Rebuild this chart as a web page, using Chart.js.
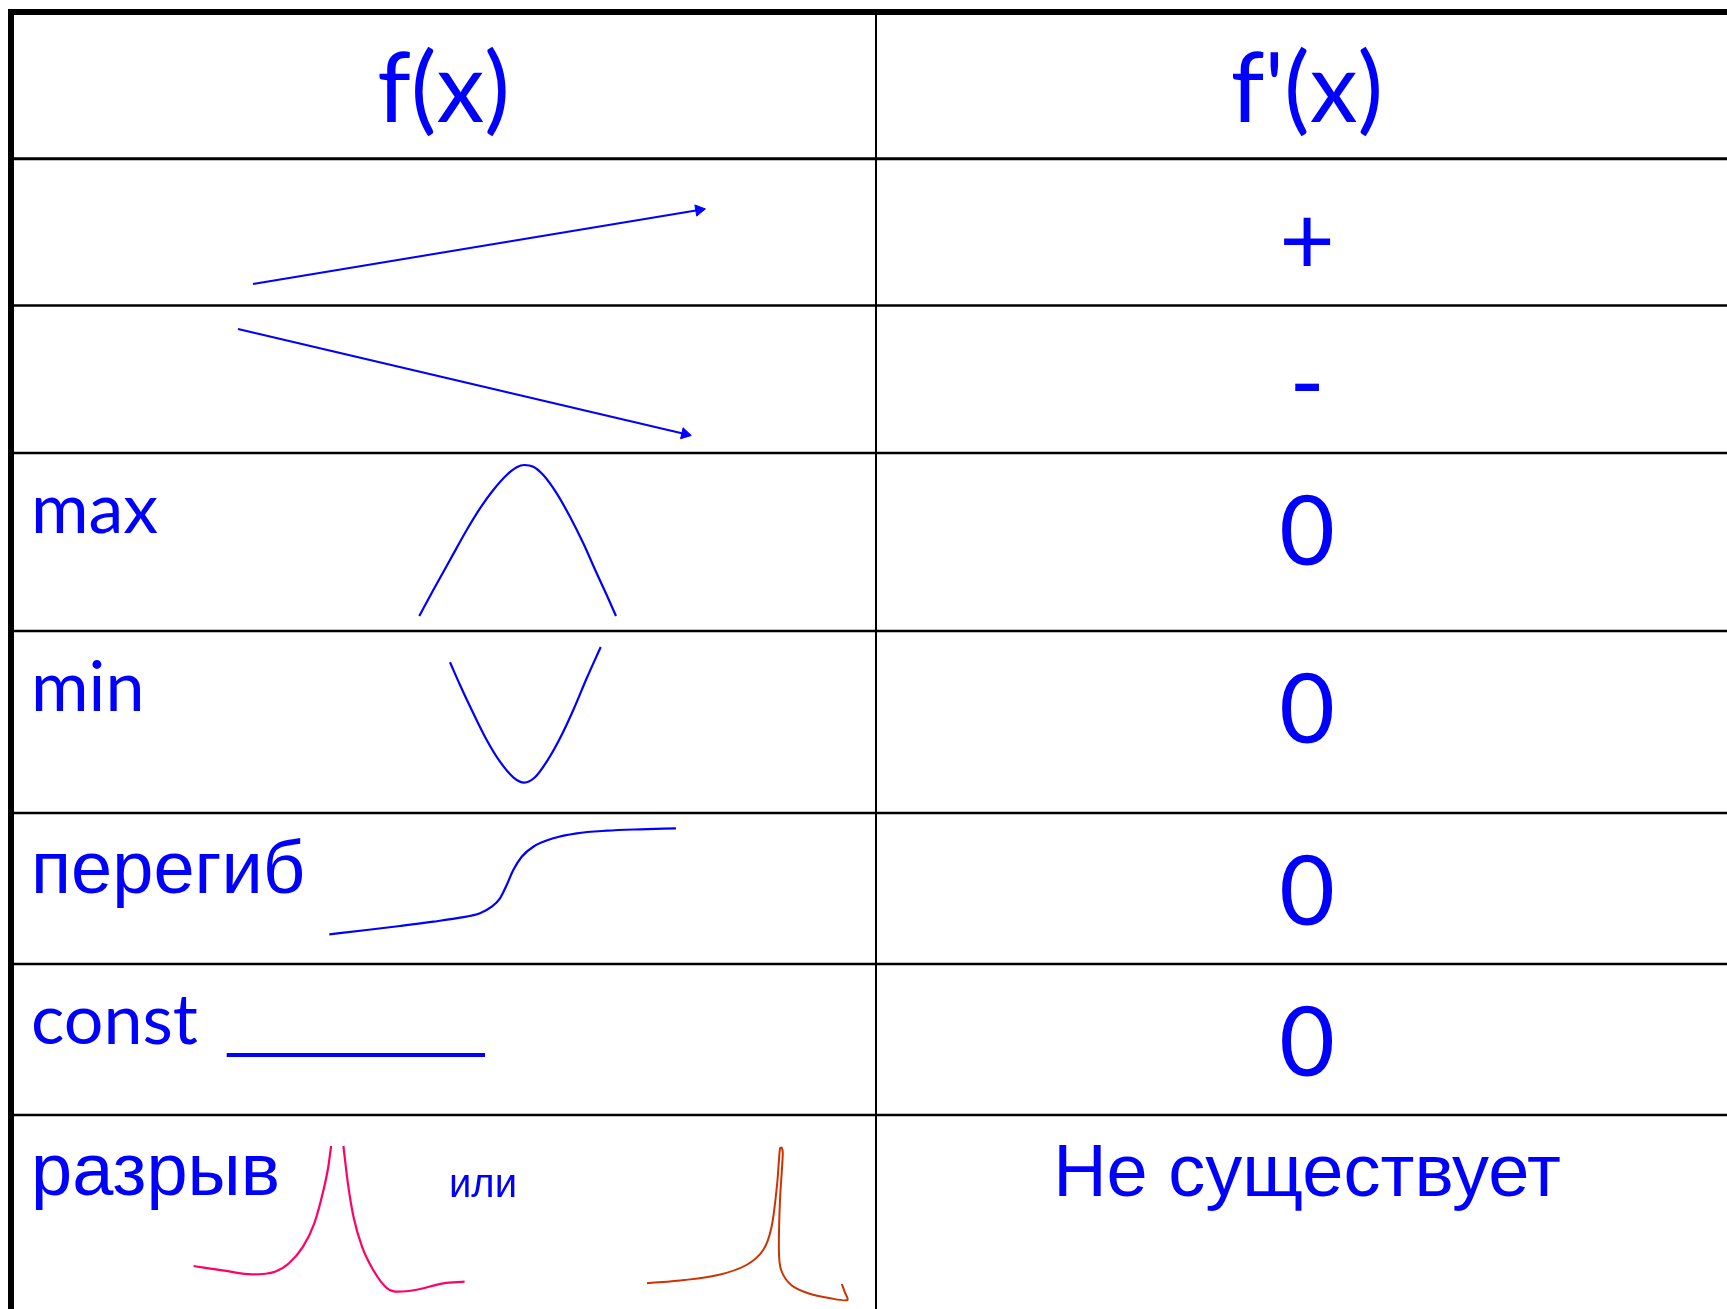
<!DOCTYPE html>
<html><head><meta charset="utf-8">
<script src="https://cdn.jsdelivr.net/npm/chart.js@4.4.1/dist/chart.umd.min.js"></script>
<style>html,body{margin:0;padding:0;background:#fff;overflow:hidden}canvas{display:block}</style>
</head><body><canvas id="c" width="1727" height="1309"></canvas>
<script>
// ---- data (diagram units = table units) ----
const columnEdges = [11, 876, 1738];
const ruleLevels = [158.7, 305.5, 453, 631, 813, 964, 1115];
const headers = ['f(x)', "f'(x)"];
const featureNames = ['', '', 'max', 'min', 'перегиб', 'const', 'разрыв'];
const derivativeSigns = ['+', '-', '0', '0', '0', '0', 'Не существует'];
const orLabel = 'или';

const riseX = [253, 699];
const riseY = [284, 210];
const fallX = [238, 685];
const fallY = [329, 434];
const maxX = [419.3, 433.3, 450, 466.7, 480, 493.3, 506.7, 516.7, 524.3, 533.3, 543.3, 556.7, 570, 583.3, 596.7, 606.7, 616];
const maxY = [616, 590, 560, 530, 508.3, 490, 475, 467.3, 465, 466.7, 475, 493.3, 516.7, 543.3, 573.3, 595, 616];
const minX = [450, 460, 473.3, 486.7, 500, 513.3, 524.3, 535, 546.7, 560, 573.3, 586.7, 600.7];
const minY = [662.3, 685, 713.3, 740, 761.7, 777.3, 782.7, 777.3, 761.7, 738.3, 710, 678.3, 647];
const bendX = [329.3, 366.7, 400, 433.3, 460, 480, 491.7, 500, 506.7, 513.3, 521.7, 533.3, 553.3, 576.7, 606.7, 640, 676];
const bendY = [934.3, 930, 926, 921.7, 917.7, 913.3, 906.7, 898.3, 885, 870, 856.7, 846.7, 838.3, 833.3, 830.7, 829.3, 828.3];
const constX = [226.7, 485];
const constY = [1055, 1055];
const gapLeftX = [193.6, 224.5, 252.5, 275, 289, 303, 314.3, 322.7, 328.3, 331.1];
const gapLeftY = [1266, 1270.7, 1274.3, 1271.7, 1263.3, 1246.7, 1223.3, 1193.3, 1166.7, 1146];
const gapRightX = [343.4, 347.9, 353.5, 362, 373.2, 387.2, 398.4, 415.3, 443.3, 464.6];
const gapRightY = [1146, 1183.3, 1216.7, 1246.7, 1270, 1288.3, 1291.7, 1290, 1283.3, 1281.7];
const cuspX = [647, 684.6, 718.3, 746.4, 763.2, 771.6, 777.2, 780, 781.7, 782.8, 780, 778.9, 781.1, 791.2, 808.1, 830.5, 847.4, 844.6, 841.8];
const cuspY = [1283.3, 1280, 1275, 1265, 1250, 1226.7, 1183.3, 1148.3, 1147.7, 1153.3, 1200, 1250, 1270, 1285, 1293.3, 1298.3, 1300, 1291.7, 1284];

// ---- presentation ----
const W = 1727, H = 1309;
const BLUE = '#0000ff';
const FONT_A = 'Lato, "Open Sans", sans-serif';
const FONT_B = '"Liberation Sans", Arial, sans-serif';

function pts(xs, ys) { return xs.map((x, i) => ({ x: x, y: ys[i] })); }
function line(xs, ys, color, width, smooth) {
  const ds = { data: pts(xs, ys), borderColor: color, borderWidth: width, tension: 0,
           pointRadius: 0, showLine: true, fill: false, clip: false };
  if (smooth === 'mono') ds.cubicInterpolationMode = 'monotone';
  else if (smooth) ds.tension = smooth;
  return ds;
}
function arrowHead(xs, ys) {
  const n = xs.length;
  const ang = Math.atan2(ys[n-1] - ys[n-2], xs[n-1] - xs[n-2]) * 180 / Math.PI + 90;
  return { data: pts([xs[n-1]], [ys[n-1]]), pointStyle: 'triangle', pointRadius: 6.5,
           pointRotation: ang, backgroundColor: BLUE, borderColor: BLUE, borderWidth: 1,
           showLine: false, clip: false };
}

const datasets = [];
ruleLevels.forEach((r, i) => datasets.push(line([columnEdges[0], W], [r, r], '#000', i === 0 ? 3 : 2.5)));
datasets.push(line([8, W], [12, 12], '#000', 6));
datasets.push(line([columnEdges[0], columnEdges[0]], [9, H], '#000', 6));
datasets.push(line([columnEdges[1], columnEdges[1]], [12, H], '#000', 2));
datasets.push(line(riseX, riseY, BLUE, 2.2));
datasets.push(arrowHead(riseX, riseY));
datasets.push(line(fallX, fallY, BLUE, 2.2));
datasets.push(arrowHead(fallX, fallY));
datasets.push(line(maxX, maxY, BLUE, 2.2, 'mono'));
datasets.push(line(minX, minY, BLUE, 2.2, 'mono'));
datasets.push(line(bendX, bendY, BLUE, 2.2, 'mono'));
datasets.push(line(constX, constY, BLUE, 4));
datasets.push(line(gapLeftX, gapLeftY, '#ff0066', 2.2, 'mono'));
datasets.push(line(gapRightX, gapRightY, '#ff0066', 2.2, 'mono'));
datasets.push(line(cuspX, cuspY, '#cc3300', 2, 0.3));

const textPlugin = {
  id: 'tableText',
  afterDatasetsDraw(chart) {
    const ctx = chart.ctx, sx = chart.scales.x, sy = chart.scales.y;
    const put = (t, x, y, font, align) => {
      ctx.font = font; ctx.textAlign = align; ctx.textBaseline = 'alphabetic';
      ctx.fillStyle = BLUE;
      ctx.fillText(t, sx.getPixelForValue(x), sy.getPixelForValue(y));
    };
    ctx.save();
    const centers = [(columnEdges[0] + columnEdges[1]) / 2, (columnEdges[1] + columnEdges[2]) / 2];
    headers.forEach((h, i) => put(h, centers[i], 122, '96px ' + FONT_A, 'center'));
    const tops = ruleLevels;
    derivativeSigns.forEach((s, i) => {
      const top = tops[i];
      if (s === '+') put(s, centers[1], top + 115, '96px ' + FONT_A, 'center');
      else if (s === '-') put(s, centers[1], top + 110, '96px ' + FONT_A, 'center');
      else if (s === '0') put(s, centers[1], top + 111.5, '96px ' + FONT_A, 'center');
      else put(s, centers[1], top + 81, '74px ' + FONT_B, 'center');
    });
    featureNames.forEach((f, i) => {
      if (!f) return;
      const cyr = /[а-я]/i.test(f);
      put(f, columnEdges[0] + 20, tops[i] + 80, (cyr ? '74px ' + FONT_B : '70px ' + FONT_A), 'left');
    });
    put(orLabel, 449, tops[6] + 82, '40px ' + FONT_B, 'left');
    ctx.restore();
  }
};

new Chart(document.getElementById('c'), {
  type: 'scatter',
  data: { datasets: datasets },
  options: {
    responsive: false, animation: false, devicePixelRatio: 1,
    layout: { padding: 0, autoPadding: false },
    plugins: { legend: { display: false }, tooltip: { enabled: false }, title: { display: false } },
    scales: {
      x: { type: 'linear', min: 0, max: W, display: false },
      y: { type: 'linear', min: 0, max: H, reverse: true, display: false }
    },
    events: []
  },
  plugins: [textPlugin]
});
</script>
</body></html>
